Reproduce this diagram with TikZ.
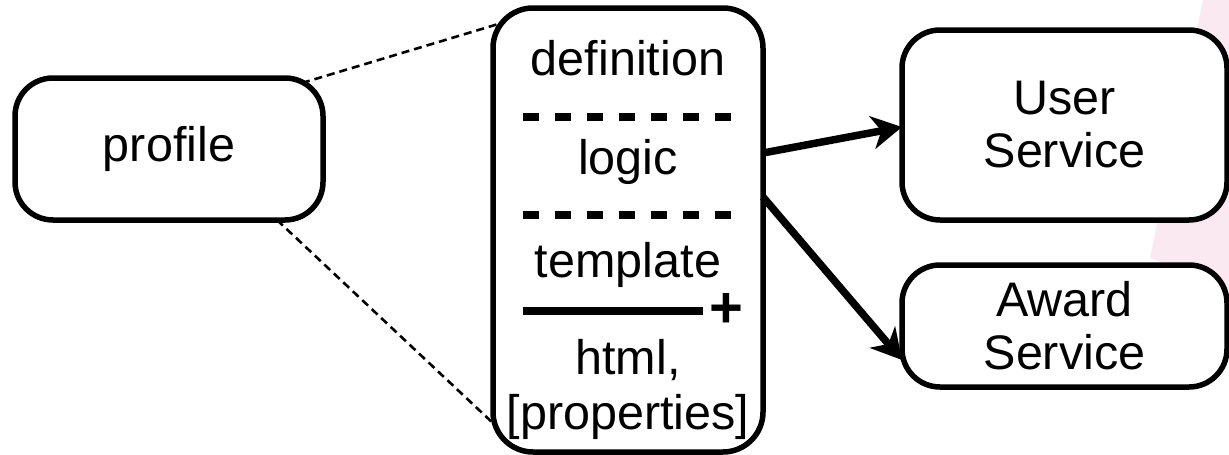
\documentclass[tikz,border=0pt]{standalone}
\usepackage{fontspec}
\setmainfont{Liberation Sans}
\usetikzlibrary{arrows.meta,calc}
\definecolor{haze}{RGB}{251,233,241}
\begin{document}
\begin{tikzpicture}[x=1pt,y=-1pt,
  box/.style={draw, line width=5.5pt, rounded corners=38pt, fill=white,
    inner sep=0pt, outer sep=0pt, align=center,
    font=\fontsize{48.5}{53}\selectfont},
  lbl/.style={anchor=base, inner sep=0pt, font=\fontsize{48.5}{53}\selectfont},
  sepline/.style={line width=8pt, dash pattern=on 16pt off 16pt},
  link/.style={line width=2.6pt, dash pattern=on 8pt off 5pt},
  call/.style={line width=7.5pt, -{Stealth[length=30pt,width=33pt,inset=9pt]}},
]
\useasboundingbox (0,0) rectangle (1229,455);

% soft pink backdrop on the right edge
\fill[haze] (1203,0) -- (1229,0) -- (1229,290) -- (1150,258) -- cycle;

% boxes
\node[box, minimum width=308pt, minimum height=142pt] (profile) at (169,149) {profile};
\node[box, minimum width=270pt, minimum height=444pt, rounded corners=40pt] (mid) at (628,230) {};
\node[box, minimum width=325pt, minimum height=190pt] (user) at (1064.5,125) {User\\Service};
\node[box, minimum width=325pt, minimum height=122pt] (award) at (1064.5,326) {Award\\Service};

% compartments of the component box
\node[lbl] (tdef) at (628,75) {definition};
\node[lbl] (tlogic) at (628,174) {logic};
\node[lbl] (ttpl) at (628,277) {template};
\node[lbl] (thtml) at (628,374) {html,};
\node[lbl] (tprop) at (628,429) {[properties]};

\draw[sepline] (523,117) -- (732,117);
\draw[sepline] (523,215) -- (732,215);
\draw[line width=8pt] (523,311) -- (703,311);
\node[inner sep=0pt, font=\fontsize{58}{60}\selectfont\bfseries] (plus) at (726.5,310) {+};

% zoom lines from profile to its component box
\coordinate (pTop) at ($(profile.north east)+(-21,5)$);
\coordinate (pBot) at ($(profile.south east)+(-46,0)$);
\coordinate (mTop) at ($(mid.north west)+(12,14)$);
\coordinate (mBot) at ($(mid.south west)+(2,-27)$);
\draw[link] (pTop) -- (mTop);
\draw[link] (pBot) -- (mBot);

% service calls
\draw[call] ($(mid.east)+(0,-77)$) -- ($(user.west)+(0,2)$);
\draw[call] ($(mid.east)+(0,-33)$) -- ($(award.west)+(0,34)$);
\end{tikzpicture}
\end{document}
